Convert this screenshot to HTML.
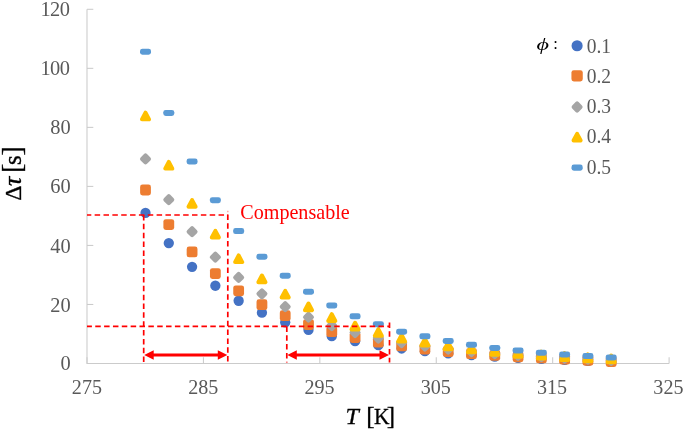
<!DOCTYPE html>
<html><head><meta charset="utf-8"><title>chart</title>
<style>
html,body{margin:0;padding:0;background:#fff;}
body{width:685px;height:431px;overflow:hidden;}
svg{display:block;}
.tk{font-family:"Liberation Serif",serif;font-size:19.5px;fill:#595959;}
.ax{stroke:#cbcbcb;stroke-width:1.05;fill:none;}
.rd{stroke:#ff0000;stroke-width:1.7;stroke-dasharray:5.5 3.35;fill:none;}
</style></head><body>
<svg width="685" height="431" viewBox="0 0 685 431">
<rect width="685" height="431" fill="#ffffff"/>

<path class="ax" d="M87.0,9.3 V363.5 H669.1"/>
<path class="ax" d="M87.0,363.50 h6.3"/>
<text class="tk" style="font-size:20.4px" x="70.6" y="370.4" text-anchor="end">0</text>
<path class="ax" d="M87.0,304.47 h6.3"/>
<text class="tk" style="font-size:20.4px" x="70.6" y="311.5" text-anchor="end">20</text>
<path class="ax" d="M87.0,245.43 h6.3"/>
<text class="tk" style="font-size:20.4px" x="70.6" y="252.5" text-anchor="end">40</text>
<path class="ax" d="M87.0,186.40 h6.3"/>
<text class="tk" style="font-size:20.4px" x="70.6" y="193.1" text-anchor="end">60</text>
<path class="ax" d="M87.0,127.37 h6.3"/>
<text class="tk" style="font-size:20.4px" x="70.6" y="134.2" text-anchor="end">80</text>
<path class="ax" d="M87.0,68.33 h6.3"/>
<text class="tk" style="font-size:20.4px;letter-spacing:-0.55px" x="69.35" y="75.4" text-anchor="end">100</text>
<path class="ax" d="M87.0,9.30 h6.3"/>
<text class="tk" style="font-size:20.4px;letter-spacing:-0.55px" x="69.35" y="15.9" text-anchor="end">120</text>
<path class="ax" d="M87.00,363.5 v-6.3"/>
<text class="tk" style="font-size:20.1px" x="86.90" y="393.95" text-anchor="middle">275</text>
<path class="ax" d="M203.42,363.5 v-6.3"/>
<text class="tk" style="font-size:20.1px" x="203.20" y="393.95" text-anchor="middle">285</text>
<path class="ax" d="M319.84,363.5 v-6.3"/>
<text class="tk" style="font-size:20.1px" x="319.50" y="393.95" text-anchor="middle">295</text>
<path class="ax" d="M436.26,363.5 v-6.3"/>
<text class="tk" style="font-size:20.1px" x="435.80" y="393.95" text-anchor="middle">305</text>
<path class="ax" d="M552.68,363.5 v-6.3"/>
<text class="tk" style="font-size:20.1px" x="552.10" y="393.95" text-anchor="middle">315</text>
<path class="ax" d="M669.10,363.5 v-6.3"/>
<text class="tk" style="font-size:20.1px" x="668.40" y="393.95" text-anchor="middle">325</text>
<g>
<circle cx="145.51" cy="212.97" r="5.15" fill="#4472c4"/>
<circle cx="168.79" cy="243.08" r="5.15" fill="#4472c4"/>
<circle cx="192.08" cy="266.87" r="5.15" fill="#4472c4"/>
<circle cx="215.36" cy="285.73" r="5.15" fill="#4472c4"/>
<circle cx="238.65" cy="300.74" r="5.15" fill="#4472c4"/>
<circle cx="261.93" cy="312.71" r="5.15" fill="#4472c4"/>
<circle cx="285.21" cy="322.29" r="5.15" fill="#4472c4"/>
<circle cx="308.50" cy="329.97" r="5.15" fill="#4472c4"/>
<circle cx="331.78" cy="336.16" r="5.15" fill="#4472c4"/>
<circle cx="355.07" cy="341.15" r="5.15" fill="#4472c4"/>
<circle cx="378.35" cy="345.20" r="5.15" fill="#4472c4"/>
<circle cx="401.63" cy="348.48" r="5.15" fill="#4472c4"/>
<circle cx="424.92" cy="351.15" r="5.15" fill="#4472c4"/>
<circle cx="448.20" cy="353.33" r="5.15" fill="#4472c4"/>
<circle cx="471.49" cy="355.11" r="5.15" fill="#4472c4"/>
<circle cx="494.77" cy="356.57" r="5.15" fill="#4472c4"/>
<circle cx="518.05" cy="357.77" r="5.15" fill="#4472c4"/>
<circle cx="541.34" cy="358.76" r="5.15" fill="#4472c4"/>
<circle cx="564.62" cy="359.85" r="5.15" fill="#4472c4"/>
<circle cx="587.91" cy="360.92" r="5.15" fill="#4472c4"/>
<circle cx="611.19" cy="361.94" r="5.15" fill="#4472c4"/>
</g>
<g>
<rect x="140.11" y="184.61" width="10.80" height="10.80" rx="2.4" fill="#ed7d31"/>
<rect x="163.39" y="219.15" width="10.80" height="10.80" rx="2.4" fill="#ed7d31"/>
<rect x="186.68" y="246.49" width="10.80" height="10.80" rx="2.4" fill="#ed7d31"/>
<rect x="209.96" y="268.18" width="10.80" height="10.80" rx="2.4" fill="#ed7d31"/>
<rect x="233.25" y="285.45" width="10.80" height="10.80" rx="2.4" fill="#ed7d31"/>
<rect x="256.53" y="299.24" width="10.80" height="10.80" rx="2.4" fill="#ed7d31"/>
<rect x="279.81" y="310.28" width="10.80" height="10.80" rx="2.4" fill="#ed7d31"/>
<rect x="303.10" y="319.16" width="10.80" height="10.80" rx="2.4" fill="#ed7d31"/>
<rect x="326.38" y="326.31" width="10.80" height="10.80" rx="2.4" fill="#ed7d31"/>
<rect x="349.67" y="332.08" width="10.80" height="10.80" rx="2.4" fill="#ed7d31"/>
<rect x="372.95" y="336.76" width="10.80" height="10.80" rx="2.4" fill="#ed7d31"/>
<rect x="396.23" y="340.56" width="10.80" height="10.80" rx="2.4" fill="#ed7d31"/>
<rect x="419.52" y="343.66" width="10.80" height="10.80" rx="2.4" fill="#ed7d31"/>
<rect x="442.80" y="346.19" width="10.80" height="10.80" rx="2.4" fill="#ed7d31"/>
<rect x="466.09" y="348.26" width="10.80" height="10.80" rx="2.4" fill="#ed7d31"/>
<rect x="489.37" y="349.95" width="10.80" height="10.80" rx="2.4" fill="#ed7d31"/>
<rect x="512.65" y="351.35" width="10.80" height="10.80" rx="2.4" fill="#ed7d31"/>
<rect x="535.94" y="352.50" width="10.80" height="10.80" rx="2.4" fill="#ed7d31"/>
<rect x="559.22" y="353.74" width="10.80" height="10.80" rx="2.4" fill="#ed7d31"/>
<rect x="582.51" y="354.94" width="10.80" height="10.80" rx="2.4" fill="#ed7d31"/>
<rect x="605.79" y="356.08" width="10.80" height="10.80" rx="2.4" fill="#ed7d31"/>
</g>
<g>
<path d="M145.51,155.55 L148.91,158.95 L145.51,162.35 L142.11,158.95 Z" fill="#a5a5a5" stroke="#a5a5a5" stroke-width="4.2" stroke-linejoin="round"/>
<path d="M168.79,196.26 L172.19,199.66 L168.79,203.06 L165.39,199.66 Z" fill="#a5a5a5" stroke="#a5a5a5" stroke-width="4.2" stroke-linejoin="round"/>
<path d="M192.08,228.28 L195.48,231.68 L192.08,235.08 L188.68,231.68 Z" fill="#a5a5a5" stroke="#a5a5a5" stroke-width="4.2" stroke-linejoin="round"/>
<path d="M215.36,253.73 L218.76,257.13 L215.36,260.53 L211.96,257.13 Z" fill="#a5a5a5" stroke="#a5a5a5" stroke-width="4.2" stroke-linejoin="round"/>
<path d="M238.65,274.02 L242.05,277.42 L238.65,280.82 L235.25,277.42 Z" fill="#a5a5a5" stroke="#a5a5a5" stroke-width="4.2" stroke-linejoin="round"/>
<path d="M261.93,290.37 L265.33,293.77 L261.93,297.17 L258.53,293.77 Z" fill="#a5a5a5" stroke="#a5a5a5" stroke-width="4.2" stroke-linejoin="round"/>
<path d="M285.21,303.27 L288.61,306.67 L285.21,310.07 L281.81,306.67 Z" fill="#a5a5a5" stroke="#a5a5a5" stroke-width="4.2" stroke-linejoin="round"/>
<path d="M308.50,313.74 L311.90,317.14 L308.50,320.54 L305.10,317.14 Z" fill="#a5a5a5" stroke="#a5a5a5" stroke-width="4.2" stroke-linejoin="round"/>
<path d="M331.78,322.28 L335.18,325.68 L331.78,329.08 L328.38,325.68 Z" fill="#a5a5a5" stroke="#a5a5a5" stroke-width="4.2" stroke-linejoin="round"/>
<path d="M355.07,329.17 L358.47,332.57 L355.07,335.97 L351.67,332.57 Z" fill="#a5a5a5" stroke="#a5a5a5" stroke-width="4.2" stroke-linejoin="round"/>
<path d="M378.35,334.63 L381.75,338.03 L378.35,341.43 L374.95,338.03 Z" fill="#a5a5a5" stroke="#a5a5a5" stroke-width="4.2" stroke-linejoin="round"/>
<path d="M401.63,339.20 L405.03,342.60 L401.63,346.00 L398.23,342.60 Z" fill="#a5a5a5" stroke="#a5a5a5" stroke-width="4.2" stroke-linejoin="round"/>
<path d="M424.92,342.75 L428.32,346.15 L424.92,349.55 L421.52,346.15 Z" fill="#a5a5a5" stroke="#a5a5a5" stroke-width="4.2" stroke-linejoin="round"/>
<path d="M448.20,345.76 L451.60,349.16 L448.20,352.56 L444.80,349.16 Z" fill="#a5a5a5" stroke="#a5a5a5" stroke-width="4.2" stroke-linejoin="round"/>
<path d="M471.49,348.22 L474.89,351.62 L471.49,355.02 L468.09,351.62 Z" fill="#a5a5a5" stroke="#a5a5a5" stroke-width="4.2" stroke-linejoin="round"/>
<path d="M494.77,350.25 L498.17,353.65 L494.77,357.05 L491.37,353.65 Z" fill="#a5a5a5" stroke="#a5a5a5" stroke-width="4.2" stroke-linejoin="round"/>
<path d="M518.05,351.92 L521.45,355.32 L518.05,358.72 L514.65,355.32 Z" fill="#a5a5a5" stroke="#a5a5a5" stroke-width="4.2" stroke-linejoin="round"/>
<path d="M541.34,353.30 L544.74,356.70 L541.34,360.10 L537.94,356.70 Z" fill="#a5a5a5" stroke="#a5a5a5" stroke-width="4.2" stroke-linejoin="round"/>
<path d="M564.62,354.62 L568.02,358.02 L564.62,361.42 L561.22,358.02 Z" fill="#a5a5a5" stroke="#a5a5a5" stroke-width="4.2" stroke-linejoin="round"/>
<path d="M587.91,355.82 L591.31,359.22 L587.91,362.62 L584.51,359.22 Z" fill="#a5a5a5" stroke="#a5a5a5" stroke-width="4.2" stroke-linejoin="round"/>
<path d="M611.19,356.91 L614.59,360.31 L611.19,363.71 L607.79,360.31 Z" fill="#a5a5a5" stroke="#a5a5a5" stroke-width="4.2" stroke-linejoin="round"/>
</g>
<g>
<path d="M145.51,112.66 L149.06,119.36 L141.96,119.36 Z" fill="#ffc000" stroke="#ffc000" stroke-width="4" stroke-linejoin="round"/>
<path d="M168.79,161.91 L172.34,168.61 L165.24,168.61 Z" fill="#ffc000" stroke="#ffc000" stroke-width="4" stroke-linejoin="round"/>
<path d="M192.08,200.08 L195.63,206.78 L188.53,206.78 Z" fill="#ffc000" stroke="#ffc000" stroke-width="4" stroke-linejoin="round"/>
<path d="M215.36,230.85 L218.91,237.55 L211.81,237.55 Z" fill="#ffc000" stroke="#ffc000" stroke-width="4" stroke-linejoin="round"/>
<path d="M238.65,255.40 L242.20,262.10 L235.10,262.10 Z" fill="#ffc000" stroke="#ffc000" stroke-width="4" stroke-linejoin="round"/>
<path d="M261.93,275.56 L265.48,282.26 L258.38,282.26 Z" fill="#ffc000" stroke="#ffc000" stroke-width="4" stroke-linejoin="round"/>
<path d="M285.21,290.83 L288.76,297.53 L281.66,297.53 Z" fill="#ffc000" stroke="#ffc000" stroke-width="4" stroke-linejoin="round"/>
<path d="M308.50,303.54 L312.05,310.24 L304.95,310.24 Z" fill="#ffc000" stroke="#ffc000" stroke-width="4" stroke-linejoin="round"/>
<path d="M331.78,314.19 L335.33,320.89 L328.23,320.89 Z" fill="#ffc000" stroke="#ffc000" stroke-width="4" stroke-linejoin="round"/>
<path d="M355.07,322.75 L358.62,329.45 L351.52,329.45 Z" fill="#ffc000" stroke="#ffc000" stroke-width="4" stroke-linejoin="round"/>
<path d="M378.35,329.12 L381.90,335.82 L374.80,335.82 Z" fill="#ffc000" stroke="#ffc000" stroke-width="4" stroke-linejoin="round"/>
<path d="M401.63,334.89 L405.18,341.59 L398.08,341.59 Z" fill="#ffc000" stroke="#ffc000" stroke-width="4" stroke-linejoin="round"/>
<path d="M424.92,338.83 L428.47,345.53 L421.37,345.53 Z" fill="#ffc000" stroke="#ffc000" stroke-width="4" stroke-linejoin="round"/>
<path d="M448.20,342.50 L451.75,349.20 L444.65,349.20 Z" fill="#ffc000" stroke="#ffc000" stroke-width="4" stroke-linejoin="round"/>
<path d="M471.49,345.51 L475.04,352.21 L467.94,352.21 Z" fill="#ffc000" stroke="#ffc000" stroke-width="4" stroke-linejoin="round"/>
<path d="M494.77,347.98 L498.32,354.68 L491.22,354.68 Z" fill="#ffc000" stroke="#ffc000" stroke-width="4" stroke-linejoin="round"/>
<path d="M518.05,350.03 L521.60,356.73 L514.50,356.73 Z" fill="#ffc000" stroke="#ffc000" stroke-width="4" stroke-linejoin="round"/>
<path d="M541.34,351.71 L544.89,358.41 L537.79,358.41 Z" fill="#ffc000" stroke="#ffc000" stroke-width="4" stroke-linejoin="round"/>
<path d="M564.62,353.18 L568.17,359.88 L561.07,359.88 Z" fill="#ffc000" stroke="#ffc000" stroke-width="4" stroke-linejoin="round"/>
<path d="M587.91,354.45 L591.46,361.15 L584.36,361.15 Z" fill="#ffc000" stroke="#ffc000" stroke-width="4" stroke-linejoin="round"/>
<path d="M611.19,355.53 L614.74,362.23 L607.64,362.23 Z" fill="#ffc000" stroke="#ffc000" stroke-width="4" stroke-linejoin="round"/>
</g>
<g>
<rect x="140.01" y="48.66" width="11.00" height="6.00" rx="2.4" fill="#5b9bd5"/>
<rect x="163.29" y="109.89" width="11.00" height="6.00" rx="2.4" fill="#5b9bd5"/>
<rect x="186.58" y="158.48" width="11.00" height="6.00" rx="2.4" fill="#5b9bd5"/>
<rect x="209.86" y="197.17" width="11.00" height="6.00" rx="2.4" fill="#5b9bd5"/>
<rect x="233.15" y="228.07" width="11.00" height="6.00" rx="2.4" fill="#5b9bd5"/>
<rect x="256.43" y="253.75" width="11.00" height="6.00" rx="2.4" fill="#5b9bd5"/>
<rect x="279.71" y="272.72" width="11.00" height="6.00" rx="2.4" fill="#5b9bd5"/>
<rect x="303.00" y="288.74" width="11.00" height="6.00" rx="2.4" fill="#5b9bd5"/>
<rect x="326.28" y="302.40" width="11.00" height="6.00" rx="2.4" fill="#5b9bd5"/>
<rect x="349.57" y="313.35" width="11.00" height="6.00" rx="2.4" fill="#5b9bd5"/>
<rect x="372.85" y="321.19" width="11.00" height="6.00" rx="2.4" fill="#5b9bd5"/>
<rect x="396.13" y="328.65" width="11.00" height="6.00" rx="2.4" fill="#5b9bd5"/>
<rect x="419.42" y="333.33" width="11.00" height="6.00" rx="2.4" fill="#5b9bd5"/>
<rect x="442.70" y="337.98" width="11.00" height="6.00" rx="2.4" fill="#5b9bd5"/>
<rect x="465.99" y="341.79" width="11.00" height="6.00" rx="2.4" fill="#5b9bd5"/>
<rect x="489.27" y="344.93" width="11.00" height="6.00" rx="2.4" fill="#5b9bd5"/>
<rect x="512.55" y="347.52" width="11.00" height="6.00" rx="2.4" fill="#5b9bd5"/>
<rect x="535.84" y="349.67" width="11.00" height="6.00" rx="2.4" fill="#5b9bd5"/>
<rect x="559.12" y="351.50" width="11.00" height="6.00" rx="2.4" fill="#5b9bd5"/>
<rect x="582.41" y="353.06" width="11.00" height="6.00" rx="2.4" fill="#5b9bd5"/>
<rect x="605.69" y="354.38" width="11.00" height="6.00" rx="2.4" fill="#5b9bd5"/>
</g>
<path class="rd" stroke-dashoffset="1.2" d="M87.0,215.0 H227.8"/>
<path class="rd" d="M143.7,215.0 V362.5"/>
<path class="rd" d="M227.8,214.5 V362.5"/>
<path d="M227.8,210.8 v1.4" stroke="#ff0000" stroke-width="1.5" opacity="0.35"/>
<path class="rd" stroke-dashoffset="0.6" d="M87.0,326.4 H389.5"/>
<path class="rd" d="M286.8,326.4 V362.5"/>
<path class="rd" d="M389.5,322.4 V362.5"/>
<path d="M152.7,355 H218.8" stroke="#ff0000" stroke-width="2.9" fill="none"/><path d="M144.2,355 l9.5,-4.8 v9.6 Z M227.3,355 l-9.5,-4.8 v9.6 Z" fill="#ff0000"/>
<path d="M295.8,355 H380.5" stroke="#ff0000" stroke-width="2.9" fill="none"/><path d="M287.3,355 l9.5,-4.8 v9.6 Z M389.0,355 l-9.5,-4.8 v9.6 Z" fill="#ff0000"/>
<text x="240.3" y="218.5" font-family="'Liberation Serif',serif" font-size="20.1" fill="#ff0000">Compensable</text>
<circle cx="577.10" cy="45.75" r="5.56" fill="#4472c4"/>
<text class="tk" transform="translate(586.7,52.65) scale(1,1.05)">0.1</text>
<rect x="571.43" y="70.13" width="11.34" height="11.34" rx="2.4" fill="#ed7d31"/>
<text class="tk" transform="translate(586.7,82.85) scale(1,1.05)">0.2</text>
<path d="M577.10,103.60 L580.50,107.00 L577.10,110.40 L573.70,107.00 Z" fill="#a5a5a5" stroke="#a5a5a5" stroke-width="4.2" stroke-linejoin="round"/>
<text class="tk" transform="translate(586.7,112.85) scale(1,1.05)">0.3</text>
<path d="M577.10,133.85 L580.65,140.55 L573.55,140.55 Z" fill="#ffc000" stroke="#ffc000" stroke-width="4" stroke-linejoin="round"/>
<text class="tk" transform="translate(586.7,143.35) scale(1,1.05)">0.4</text>
<rect x="571.49" y="164.54" width="11.22" height="6.12" rx="2.4" fill="#5b9bd5"/>
<text class="tk" transform="translate(586.7,173.65) scale(1,1.05)">0.5</text>
<text transform="translate(536.6,50.0) scale(1.38,1)" x="0" y="0" font-family="'Liberation Serif',serif" font-style="italic" font-size="17.5" fill="#000">ϕ</text>
<text x="553.3" y="49.2" font-family="'Liberation Serif',serif" font-size="16.5" fill="#000">:</text>
<text font-family="'Liberation Serif',serif" fill="#000" stroke="#000" stroke-width="0.3"><tspan x="345.6" y="423.6" font-size="24" font-style="italic">T</tspan><tspan font-size="8"> </tspan><tspan x="366.3" y="423.7" font-size="25.1">[</tspan><tspan x="373.9" y="423.6" font-size="23.5" textLength="15.5" lengthAdjust="spacingAndGlyphs">K</tspan><tspan x="386.7" y="423.7" font-size="25.1">]</tspan></text>
<text transform="translate(21.3,200.5) rotate(-90)" font-family="'Liberation Serif',serif" fill="#000" stroke="#000" stroke-width="0.35"><tspan x="-0.3" y="0" font-size="23.5">Δ</tspan><tspan x="14.6" y="0" font-size="26" font-style="italic">τ</tspan><tspan font-size="8"> </tspan><tspan x="27.7" y="-0.8" font-size="27">[</tspan><tspan x="35.4" y="0" font-size="25">s</tspan><tspan x="45.1" y="-0.8" font-size="27">]</tspan></text>
</svg></body></html>
